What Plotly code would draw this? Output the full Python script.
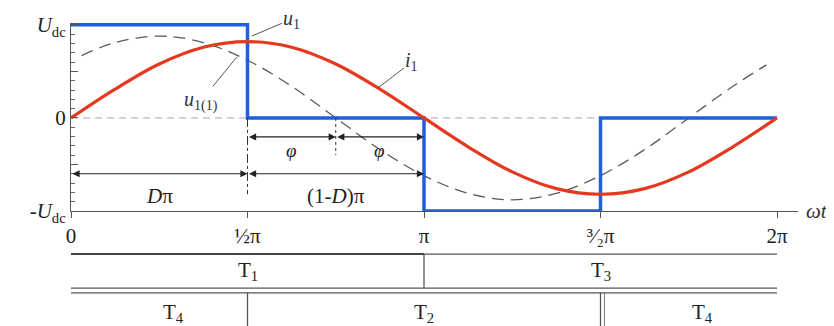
import numpy as np
import plotly.graph_objects as go

PI = np.pi

# valores (x en unidades de pi, y en unidades de Udc)
u1_x = [0, 0.5, 0.5, 1, 1, 1.5, 1.5, 2]
u1_y = [1, 1, 0, 0, -1, -1, 0, 0]

i1_x = [0, 0.125, 0.25, 0.375, 0.5, 0.625, 0.75, 0.875, 1,
        1.125, 1.25, 1.375, 1.5, 1.625, 1.75, 1.875, 2]
i1_y = [0, 0.31, 0.58, 0.76, 0.82, 0.76, 0.58, 0.31, 0,
        -0.31, -0.58, -0.76, -0.82, -0.76, -0.58, -0.31, 0]

u11_x = [0.03, 0.125, 0.25, 0.375, 0.5, 0.625, 0.75, 0.875, 1,
         1.125, 1.25, 1.375, 1.5, 1.625, 1.75, 1.875, 1.97]
u11_y = [0.67, 0.81, 0.88, 0.81, 0.62, 0.34, 0, -0.34, -0.62,
         -0.81, -0.88, -0.81, -0.62, -0.34, 0, 0.34, 0.57]

x_ticks = [0, 0.5, 1, 1.5, 2]
x_ticktext = ["0", "½π", "π", "³⁄₂π", "2π"]
y_ticks = [-1, -0.5, 0, 0.5, 1]
y_ticktext = ["-<i>U</i><sub>dc</sub>", "", "0", "", "<i>U</i><sub>dc</sub>"]

# intervalos de conducción (inicio, fin en unidades de pi)
fila1 = [("T<sub>1</sub>", 0, 1), ("T<sub>3</sub>", 1, 2)]
fila2 = [("T<sub>4</sub>", 0, 0.5), ("T<sub>2</sub>", 0.5, 1.5), ("T<sub>4</sub>", 1.5, 2)]

FONT = "Liberation Serif"
BLUE = "#1f5fdc"
RED = "#e6381e"
INK = "#333333"

fig = go.Figure()

fig.add_trace(go.Scatter(
    x=np.array(u11_x) * PI, y=u11_y, mode="lines", line_shape="spline",
    line=dict(color="#5a5a5a", width=1.3, dash="12px,7px"), hoverinfo="skip"
))
fig.add_trace(go.Scatter(
    x=np.array(u1_x) * PI, y=u1_y, mode="lines",
    line=dict(color=BLUE, width=3.5), hoverinfo="skip"
))
fig.add_trace(go.Scatter(
    x=np.array(i1_x) * PI, y=i1_y, mode="lines", line_shape="spline",
    line=dict(color=RED, width=3.2), hoverinfo="skip"
))

shapes = []
# línea de cero discontinua
shapes.append(dict(type="line", xref="x", yref="y", x0=0, x1=2 * PI, y0=0, y1=0,
                   line=dict(color="#a8a8a8", width=1, dash="7px,5px"), layer="below"))
# líneas verticales auxiliares
shapes.append(dict(type="line", xref="x", yref="y", x0=0.5 * PI, x1=0.5 * PI, y0=0, y1=-0.82,
                   line=dict(color=INK, width=1, dash="dashdot")))
shapes.append(dict(type="line", xref="x", yref="y", x0=0.75 * PI, x1=0.75 * PI, y0=0, y1=-0.4,
                   line=dict(color=INK, width=1, dash="dot")))

# tabla de conducción bajo el eje
r1_top, r1_bot, r2_top, r2_bot = -0.229, -0.410, -0.436, -0.75
shapes.append(dict(type="line", xref="x", yref="paper", x0=0, x1=PI, y0=r1_top, y1=r1_top,
                   line=dict(color="#444", width=2)))
shapes.append(dict(type="line", xref="x", yref="paper", x0=PI, x1=2 * PI, y0=r1_top, y1=r1_top,
                   line=dict(color="#555", width=1.3)))
for yy in (r1_bot, r2_top):
    shapes.append(dict(type="line", xref="x", yref="paper", x0=0, x1=2 * PI, y0=yy, y1=yy,
                       line=dict(color="#555", width=1.3)))
for _, a, b in fila1[:-1]:
    shapes.append(dict(type="line", xref="x", yref="paper", x0=b * PI, x1=b * PI,
                       y0=r1_top, y1=r1_bot, line=dict(color="#555", width=1.3)))
for _, a, b in fila2[:-1]:
    shapes.append(dict(type="line", xref="x", yref="paper", x0=b * PI, x1=b * PI,
                       y0=r2_top, y1=r2_bot, line=dict(color="#555", width=1.3)))
shapes.append(dict(type="line", xref="x", yref="paper", x0=1.5 * PI + 0.035, x1=1.5 * PI + 0.035,
                   y0=r2_top, y1=r2_bot, line=dict(color="#777", width=1)))

annotations = []
for texto, a, b in fila1:
    annotations.append(dict(x=(a + b) / 2 * PI, y=-0.32, xref="x", yref="paper", text=texto,
                            showarrow=False, xanchor="center", yanchor="middle",
                            font=dict(family=FONT, size=21, color="#222")))
pos_fila2 = [0.29, 1.0, 1.79]
for (texto, a, b), px in zip(fila2, pos_fila2):
    annotations.append(dict(x=px * PI, y=-0.54, xref="x", yref="paper", text=texto,
                            showarrow=False, xanchor="center", yanchor="middle",
                            font=dict(family=FONT, size=21, color="#222")))


def flecha(x0, x1, y):
    return dict(x=x1, y=y, ax=x0, ay=y, xref="x", yref="y", axref="x", ayref="y",
                text="", showarrow=True, arrowside="end+start", arrowhead=2,
                arrowsize=1.3, arrowwidth=1.1, arrowcolor="#222", standoff=0, startstandoff=0)


annotations += [
    flecha(0.5 * PI, 0.75 * PI, -0.204),
    flecha(0.75 * PI, PI, -0.204),
    flecha(0, 0.5 * PI, -0.60),
    flecha(0.5 * PI, PI, -0.60),
]
etiquetas = [
    ("<i>φ</i>", 0.625 * PI, -0.35, 19),
    ("<i>φ</i>", 0.875 * PI, -0.35, 19),
    ("<i>D</i>π", 0.25 * PI, -0.84, 21),
    ("(1-<i>D</i>)π", 0.75 * PI, -0.84, 21),
]
for texto, xx, yy, sz in etiquetas:
    annotations.append(dict(x=xx, y=yy, xref="x", yref="y", text=texto, showarrow=False,
                            font=dict(family=FONT, size=sz, color="#222")))

# rótulos de las curvas con línea indicadora
rotulos = [
    ("<i>u</i><sub>1</sub>", 1.61, 0.88, 40, -17),
    ("<i>u</i><sub>1(1)</sub>", 1.477, 0.656, -36, 44),
    ("<i>i</i><sub>1</sub>", 2.732, 0.323, 34, -26),
]
for texto, xx, yy, dx, dy in rotulos:
    annotations.append(dict(x=xx, y=yy, xref="x", yref="y", text=texto, showarrow=True,
                            arrowhead=0, arrowwidth=1, arrowcolor="#555", ax=dx, ay=dy,
                            font=dict(family=FONT, size=20, color="#333")))

annotations.append(dict(x=1.0, y=0, xref="paper", yref="paper", text="<i>ωt</i>",
                        showarrow=False, xanchor="left", yanchor="middle", xshift=6,
                        font=dict(family=FONT, size=21, color="#333")))

# la página añade 8 px de margen al cuerpo: se compensa en los márgenes
fig.update_layout(
    width=834, height=326,
    margin=dict(l=63, r=44, t=15, b=123, autoexpand=False),
    plot_bgcolor="white", paper_bgcolor="white",
    showlegend=False,
    shapes=shapes,
    annotations=annotations,
)

fig.update_xaxes(
    range=[0, 6.47], showgrid=False, zeroline=False, automargin=False,
    showline=True, linecolor="#555", linewidth=1.2,
    ticks="outside", ticklen=6, tickcolor="#555",
    tickvals=np.array(x_ticks) * PI, ticktext=x_ticktext,
    tickfont=dict(family=FONT, size=21, color="#222"),
)
fig.update_yaxes(
    range=[-1, 1.02], showgrid=False, zeroline=False, automargin=False,
    showline=True, linecolor="#555", linewidth=1.2,
    ticks="inside", ticklen=7, tickcolor="#555",
    tickvals=y_ticks, ticktext=y_ticktext,
    tickfont=dict(family=FONT, size=21, color="#222"),
    minor=dict(ticks="inside", ticklen=4, dtick=0.1, tickcolor="#666"),
)

fig.write_html("out.html")
